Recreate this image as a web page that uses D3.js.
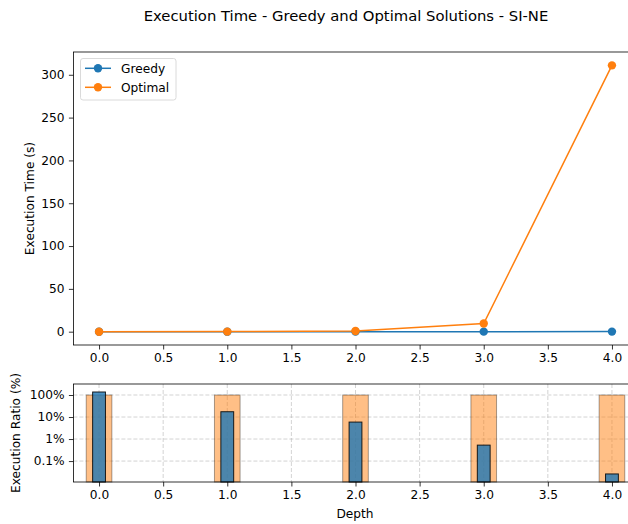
<!DOCTYPE html>
<html>
<head>
<meta charset="utf-8">
<script src="https://cdn.jsdelivr.net/npm/d3@7"></script>
<style>
  body { margin: 0; background: #fff; overflow: hidden; }
  text { font-family: "DejaVu Sans", sans-serif; fill: #000; }
</style>
</head>
<body>
<script>
var width = 628
var height = 524

// data
var depths = [0, 1, 2, 3, 4]
var greedyTime = [0.014, 0.017, 0.047, 0.05, 0.08]
var optimalTime = [0.01, 0.1, 0.8, 9.5, 311]
var greedyRatio = [137, 17.4, 5.9, 0.53, 0.026]   // % of optimal
var optimalRatio = [100, 100, 100, 100, 100]
var timeTicks = [0, 50, 100, 150, 200, 250, 300]
var depthTicks = [0, 0.5, 1, 1.5, 2, 2.5, 3, 3.5, 4]
var ratioTicks = [100, 10, 1, 0.1]
var ratioLabels = ["100%", "10%", "1%", "0.1%"]

var blue = "#1f77b4"
var orange = "#ff7f0e"
var fs = "12.2px"

var svg = d3.select("body").append("svg")
    .attr("width", width)
    .attr("height", height)

// right spine falls just outside the picture (figure was cropped)
var left = 73.4, right = 637.6
var top1 = 52, bot1 = 345
var top2 = 384, bot2 = 482

var x = d3.scaleLinear().domain([-0.2, 4.2]).range([left, right])
var y1 = d3.scaleLinear().domain([-15.55, 326.6]).range([bot1, top1])
var y2 = d3.scaleLog().domain([0.0112, 316]).range([bot2, top2])

// title
svg.append("text")
    .attr("x", 346).attr("y", 21)
    .attr("text-anchor", "middle")
    .style("font-size", "14.8px")
    .text("Execution Time - Greedy and Optimal Solutions - SI-NE")

function styleAxis(g) {
    g.selectAll("text").style("font-size", fs).style("font-family", "DejaVu Sans")
    g.select(".domain").remove()
    g.selectAll("line").attr("stroke", "#000").attr("stroke-width", 0.8)
}

// ---- top panel ----
var g1 = svg.append("g")

g1.append("g")
    .attr("transform", "translate(0," + bot1 + ")")
    .call(d3.axisBottom(x).tickValues(depthTicks).tickFormat(d3.format(".1f")).tickSize(4.5).tickPadding(4.3))
    .call(styleAxis)

g1.append("g")
    .attr("transform", "translate(" + left + ",0)")
    .call(d3.axisLeft(y1).tickValues(timeTicks).tickFormat(d3.format("d")).tickSize(4.5).tickPadding(4.3))
    .call(styleAxis)

var line1 = d3.line()
    .x(function(d, i) { return x(depths[i]) })
    .y(function(d) { return y1(d) })

var series = [
    { name: "Greedy", values: greedyTime, color: blue },
    { name: "Optimal", values: optimalTime, color: orange }
]

series.forEach(function(s) {
    g1.append("path")
        .datum(s.values)
        .attr("fill", "none")
        .attr("stroke", s.color)
        .attr("stroke-width", 1.5)
        .attr("d", line1)
    g1.selectAll(null)
        .data(s.values)
        .enter()
        .append("circle")
        .attr("cx", function(d, i) { return x(depths[i]) })
        .attr("cy", function(d) { return y1(d) })
        .attr("r", 4.2)
        .attr("fill", s.color)
})

g1.append("rect")
    .attr("x", left).attr("y", top1)
    .attr("width", right - left).attr("height", bot1 - top1)
    .attr("fill", "none").attr("stroke", "#000").attr("stroke-width", 0.8)

// legend
var lg = g1.append("g")
lg.append("rect")
    .attr("x", 80.5).attr("y", 58.5)
    .attr("width", 95.5).attr("height", 41.5)
    .attr("rx", 2.5)
    .attr("fill", "#fff").attr("fill-opacity", 0.8)
    .attr("stroke", "#d0d0d0").attr("stroke-width", 0.8)
series.forEach(function(s, i) {
    var ly = 68.3 + i * 19
    lg.append("line")
        .attr("x1", 85).attr("x2", 111)
        .attr("y1", ly).attr("y2", ly)
        .attr("stroke", s.color).attr("stroke-width", 1.5)
    lg.append("circle")
        .attr("cx", 98).attr("cy", ly).attr("r", 4.2)
        .attr("fill", s.color)
    lg.append("text")
        .attr("x", 121).attr("y", ly + 4.4)
        .style("font-size", fs)
        .text(s.name)
})

svg.append("text")
    .attr("transform", "translate(33.5," + ((top1 + bot1) / 2) + ") rotate(-90)")
    .attr("text-anchor", "middle")
    .style("font-size", fs)
    .text("Execution Time (s)")

// ---- bottom panel ----
var g2 = svg.append("g")

// grid
g2.selectAll(".vgrid")
    .data(depthTicks)
    .enter()
    .append("line")
    .attr("x1", function(d) { return x(d) }).attr("x2", function(d) { return x(d) })
    .attr("y1", top2).attr("y2", bot2)
    .attr("stroke", "#b0b0b0").attr("stroke-opacity", 0.7)
    .attr("stroke-width", 0.8).attr("stroke-dasharray", "4,2")
g2.selectAll(".hgrid")
    .data(ratioTicks)
    .enter()
    .append("line")
    .attr("x1", left).attr("x2", right)
    .attr("y1", function(d) { return y2(d) }).attr("y2", function(d) { return y2(d) })
    .attr("stroke", "#b0b0b0").attr("stroke-opacity", 0.7)
    .attr("stroke-width", 0.8).attr("stroke-dasharray", "4,2")

// optimal reference bars
g2.selectAll(".obar")
    .data(optimalRatio)
    .enter()
    .append("rect")
    .attr("x", function(d, i) { return x(depths[i] - 0.1) })
    .attr("width", x(0.2) - x(0))
    .attr("y", function(d) { return y2(d) })
    .attr("height", function(d) { return bot2 - y2(d) })
    .attr("fill", orange).attr("fill-opacity", 0.5)
    .attr("stroke", "#000").attr("stroke-opacity", 0.35).attr("stroke-width", 1)

// greedy bars
g2.selectAll(".gbar")
    .data(greedyRatio)
    .enter()
    .append("rect")
    .attr("x", function(d, i) { return x(depths[i] - 0.05) })
    .attr("width", x(0.1) - x(0))
    .attr("y", function(d) { return y2(d) })
    .attr("height", function(d) { return bot2 - y2(d) })
    .attr("fill", blue).attr("fill-opacity", 0.8)
    .attr("stroke", "#000").attr("stroke-opacity", 0.85).attr("stroke-width", 1)

g2.append("g")
    .attr("transform", "translate(0," + bot2 + ")")
    .call(d3.axisBottom(x).tickValues(depthTicks).tickFormat(d3.format(".1f")).tickSize(4.5).tickPadding(4.3))
    .call(styleAxis)

g2.append("g")
    .attr("transform", "translate(" + left + ",0)")
    .call(d3.axisLeft(y2).tickValues(ratioTicks).tickFormat(function(d, i) { return ratioLabels[i] }).tickSize(4.5).tickPadding(4.3))
    .call(styleAxis)

g2.append("rect")
    .attr("x", left).attr("y", top2)
    .attr("width", right - left).attr("height", bot2 - top2)
    .attr("fill", "none").attr("stroke", "#000").attr("stroke-width", 0.8)

svg.append("text")
    .attr("transform", "translate(20," + ((top2 + bot2) / 2) + ") rotate(-90)")
    .attr("text-anchor", "middle")
    .style("font-size", fs)
    .text("Execution Ratio (%)")

svg.append("text")
    .attr("x", 355).attr("y", 518)
    .attr("text-anchor", "middle")
    .style("font-size", fs)
    .text("Depth")
</script>
</body>
</html>
